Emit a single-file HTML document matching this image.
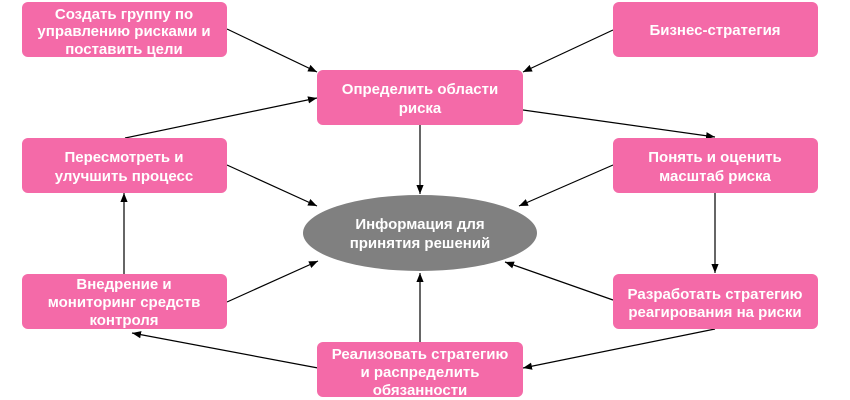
<!DOCTYPE html>
<html><head><meta charset="utf-8"><style>
html,body{margin:0;padding:0;background:#fff;width:850px;height:400px;overflow:hidden}
text{font-family:"Liberation Sans",Arial,sans-serif;font-weight:bold;font-size:15px;fill:#fff;text-anchor:middle}
</style></head><body>
<svg width="850" height="400" xmlns="http://www.w3.org/2000/svg">
<defs><marker id="a" viewBox="0 0 10 10" refX="10" refY="5" markerWidth="9" markerHeight="9" orient="auto" markerUnits="userSpaceOnUse"><path d="M0,1 L10,5 L0,9 z" fill="#000"/></marker></defs>
<g stroke="#000" stroke-width="1.2" fill="none" marker-end="url(#a)">
<line x1="227" y1="29" x2="317" y2="72"/>
<line x1="613" y1="30" x2="523" y2="72"/>
<line x1="125" y1="138" x2="317" y2="98"/>
<line x1="523" y1="110" x2="715" y2="137"/>
<line x1="420" y1="125" x2="420" y2="194"/>
<line x1="227" y1="165" x2="317" y2="206"/>
<line x1="613" y1="165" x2="519" y2="206"/>
<line x1="715" y1="193" x2="715" y2="273"/>
<line x1="124" y1="274" x2="124" y2="193"/>
<line x1="227" y1="302" x2="318" y2="261"/>
<line x1="613" y1="300" x2="505" y2="262"/>
<line x1="420" y1="342" x2="420" y2="273"/>
<line x1="715" y1="329" x2="523" y2="368"/>
<line x1="318" y1="368" x2="132" y2="333"/>
</g>
<g fill="#f46aa8">
<rect x="22" y="2" width="205" height="55" rx="6"/>
<rect x="613" y="2" width="205" height="55" rx="6"/>
<rect x="317" y="70" width="206" height="55" rx="6"/>
<rect x="22" y="138" width="205" height="55" rx="6"/>
<rect x="613" y="138" width="205" height="55" rx="6"/>
<rect x="22" y="274" width="205" height="55" rx="6"/>
<rect x="613" y="274" width="205" height="55" rx="6"/>
<rect x="317" y="342" width="206" height="55" rx="6"/>
</g>
<ellipse cx="420" cy="233" rx="117" ry="38" fill="#808080"/>
<text x="124" y="19">Создать группу по</text>
<text x="124" y="36">управлению рисками и</text>
<text x="124" y="54">поставить цели</text>
<text x="715" y="35">Бизнес-стратегия</text>
<text x="420" y="94">Определить области</text>
<text x="420" y="113">риска</text>
<text x="124" y="162">Пересмотреть и</text>
<text x="124" y="181">улучшить процесс</text>
<text x="715" y="162">Понять и оценить</text>
<text x="715" y="181">масштаб риска</text>
<text x="420" y="229">Информация для</text>
<text x="420" y="248">принятия решений</text>
<text x="124" y="289">Внедрение и</text>
<text x="124" y="307">мониторинг средств</text>
<text x="124" y="325">контроля</text>
<text x="715" y="299">Разработать стратегию</text>
<text x="715" y="317">реагирования на риски</text>
<text x="420" y="359">Реализовать стратегию</text>
<text x="420" y="377">и распределить</text>
<text x="420" y="395">обязанности</text>
</svg>
</body></html>
